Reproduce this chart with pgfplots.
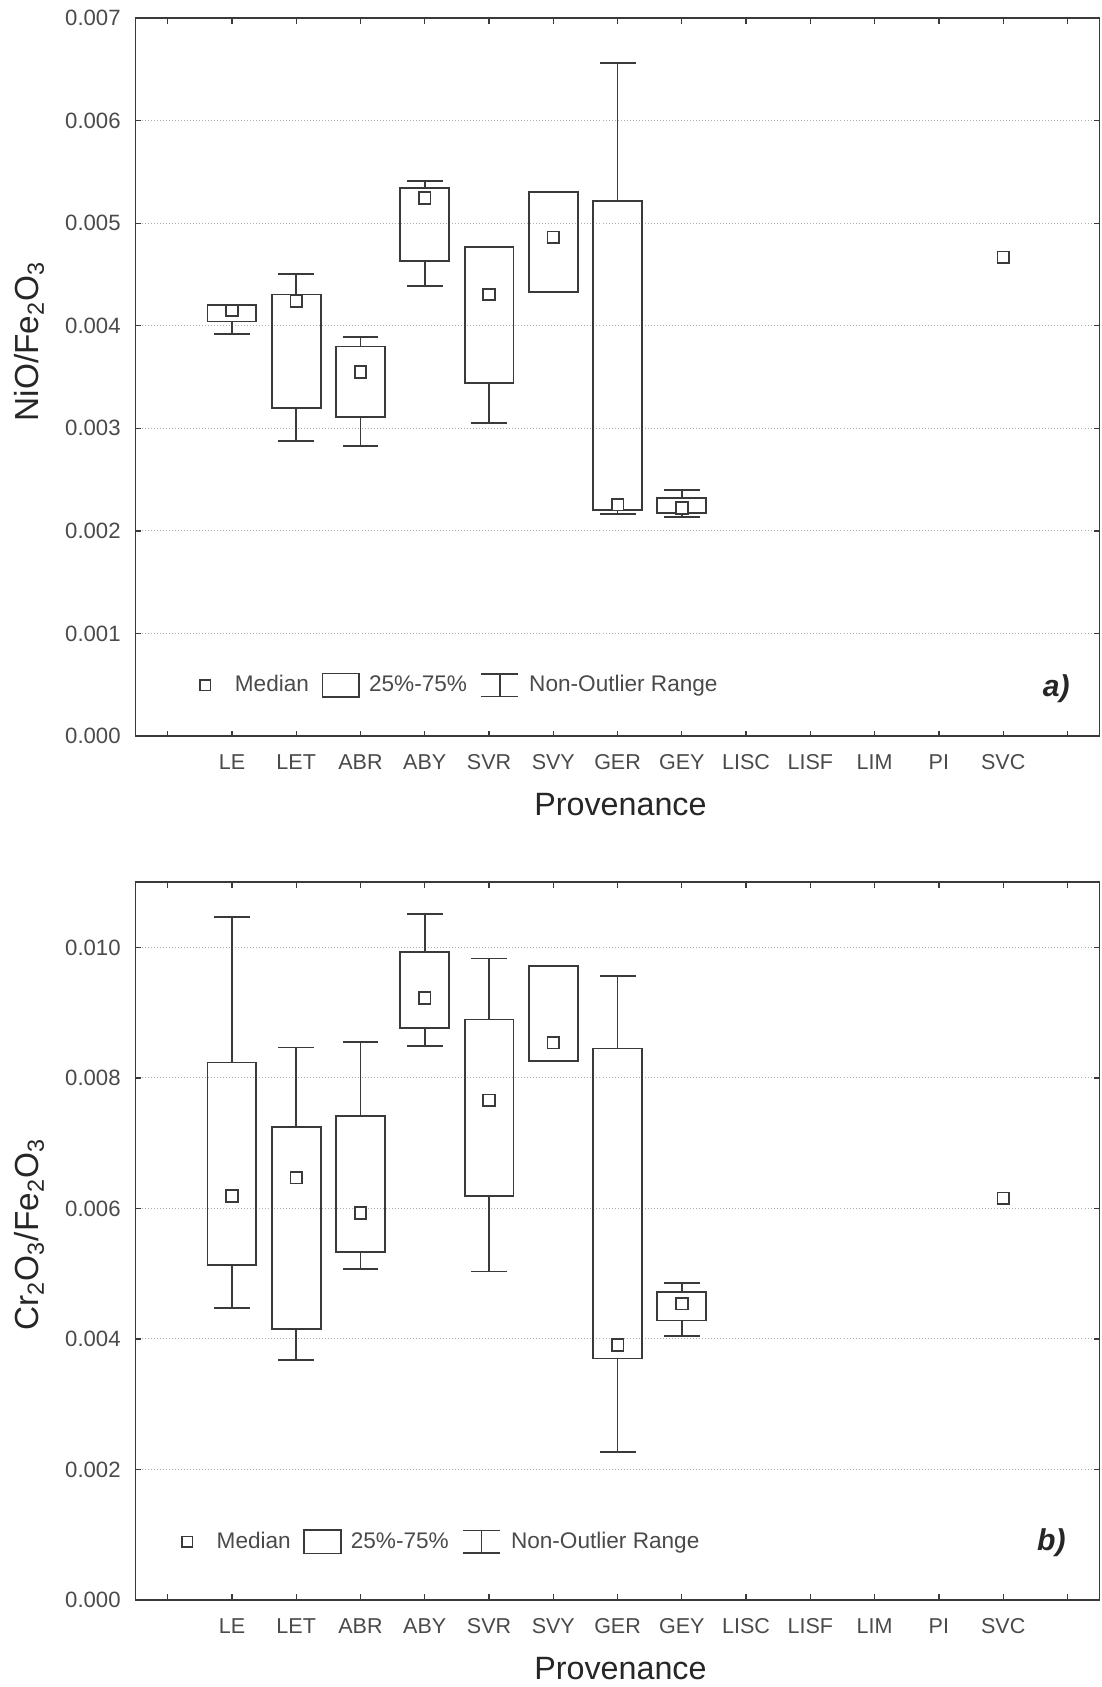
\documentclass[border=0pt]{standalone}
\usepackage{fontspec}
\setmainfont{Liberation Sans}
\usepackage{pgfplots}
\pgfplotsset{compat=1.18}
\usepgfplotslibrary{statistics}
\definecolor{ln}{HTML}{3A3A3A}
\definecolor{gridc}{HTML}{B0B0B0}
\definecolor{tx}{HTML}{4A4A4A}

% values are given in units of 0.001 (i.e. ratio x 1000)
\pgfplotsset{
  mybox/.style={
    scale only axis, width=448pt, height=333.5pt,
    xmin=-0.5, xmax=14.5,
    xtick={0,1,2,3,4,5,6,7,8,9,10,11,12,13,14},
    xticklabels={,LE,LET,ABR,ABY,SVR,SVY,GER,GEY,LISC,LISF,LIM,PI,SVC,},
    xticklabel pos=lower,
    tick align=inside,
    major tick length=2.5pt,
    tick style={ln, line width=0.6pt},
    axis line style={ln, line width=0.8pt},
    ymajorgrids,
    major grid style={gridc, densely dotted, line width=0.5pt},
    scaled y ticks=false,
    yticklabel style={font=\fontsize{10.3}{12}\selectfont, text=tx, xshift=-3.4pt},
    xticklabel style={font=\fontsize{10}{12}\selectfont, text=tx, yshift=-5.3pt},
    xlabel={Provenance},
    xlabel style={at={(axis description cs:0.503,0)}, anchor=north, yshift=-23pt,
      font=\fontsize{15}{18}\selectfont, text=black!85},
    ylabel style={anchor=center, font=\fontsize{15.5}{18}\selectfont, text=black!85},
    legend style={draw=none, fill=none, inner sep=0pt, inner xsep=0pt, inner ysep=0pt,
      nodes={inner sep=0pt, font=\fontsize{10.5}{12}\selectfont, text=tx}, anchor=west},
    legend cell align=left,
    legend columns=3,
    boxplot/draw direction=y,
    boxplot/draw/median/.code={},
    boxplot/box extend=0.76,
    boxplot/whisker extend=0.56,
  },
  medmark/.style={forget plot, only marks, mark=square*, mark size=2.7pt,
    mark options={draw=ln, fill=white, line width=0.8pt}},
}
\newcommand{\bx}[6]{\addplot[forget plot, draw=ln, line width=0.85pt, solid,
  boxplot prepared={draw direction=y, draw position=#1, lower whisker=#2, lower quartile=#3,
  median=#4, upper quartile=#5, upper whisker=#6}] coordinates {};}
\newcommand{\mylegend}{%
  \addlegendimage{legend image code/.code={
    \path (-2.5pt,0) (13.5pt,0);
    \draw[ln, line width=0.8pt, fill=white] (-2.4pt,-2.4pt) rectangle (2.4pt,2.4pt);}}
  \addlegendentry{Median}
  \addlegendimage{legend image code/.code={
    \path (-6pt,0) (21.5pt,0);
    \draw[ln, line width=0.8pt] (0pt,-5.5pt) rectangle (17pt,5.5pt);}}
  \addlegendentry{25\%-75\%}
  \addlegendimage{legend image code/.code={
    \path (-6.5pt,0) (22pt,0);
    \draw[ln, line width=0.8pt] (0pt,-5.25pt) -- (17pt,-5.25pt)
      (0pt,5.25pt) -- (17pt,5.25pt) (8.5pt,-5.25pt) -- (8.5pt,5.25pt);}}
  \addlegendentry{Non-Outlier Range}%
}

\begin{document}
\begin{tikzpicture}
% ---------- top: NiO/Fe2O3 ----------
\begin{axis}[mybox, at={(0pt,401.5pt)}, anchor=south west,
  ymin=0, ymax=7,
  ytick={0,1,2,3,4,5,6,7},
  yticklabels={0.000,0.001,0.002,0.003,0.004,0.005,0.006,0.007},
  ylabel={NiO/Fe\textsubscript{2}O\textsubscript{3}},
  ylabel style={at={(axis description cs:-0.1105,0.5495)}},
  legend style={at={(axis description cs:0.0658,0.0705)}},
]
\mylegend
\bx{1}{3.922}{4.042}{4.150}{4.205}{4.205}
\bx{2}{2.876}{3.200}{4.238}{4.306}{4.508}
\bx{3}{2.824}{3.111}{3.550}{3.798}{3.893}
\bx{4}{4.388}{4.632}{5.248}{5.345}{5.414}
\bx{5}{3.056}{3.443}{4.306}{4.769}{4.769}
\bx{6}{4.332}{4.332}{4.863}{5.303}{5.303}
\bx{7}{2.163}{2.203}{2.256}{5.221}{6.567}
\bx{8}{2.134}{2.173}{2.222}{2.317}{2.399}
\addplot[medmark] coordinates {
 (1,4.150) (2,4.238) (3,3.550) (4,5.248) (5,4.306)
 (6,4.863) (7,2.256) (8,2.222) (13,4.668)};
\node[font=\fontsize{14}{16}\selectfont\bfseries\itshape, text=black!85]
  at (axis description cs:0.955,0.066) {a)};
\end{axis}
% ---------- bottom: Cr2O3/Fe2O3 ----------
\begin{axis}[mybox, at={(0pt,0pt)}, anchor=south west,
  ymin=0, ymax=11,
  ytick={0,2,4,6,8,10},
  yticklabels={0.000,0.002,0.004,0.006,0.008,0.010},
  ylabel={Cr\textsubscript{2}O\textsubscript{3}/Fe\textsubscript{2}O\textsubscript{3}},
  ylabel style={at={(axis description cs:-0.1105,0.509)}},
  legend style={at={(axis description cs:0.0469,0.081)}},
]
\mylegend
\bx{1}{4.469}{5.137}{6.189}{8.238}{10.470}
\bx{2}{3.679}{4.148}{6.470}{7.246}{8.467}
\bx{3}{5.070}{5.326}{5.928}{7.420}{8.554}
\bx{4}{8.493}{8.769}{9.223}{9.928}{10.511}
\bx{5}{5.034}{6.194}{7.655}{8.897}{9.831}
\bx{6}{8.258}{8.258}{8.539}{9.719}{9.719}
\bx{7}{2.260}{3.699}{3.908}{8.452}{9.566}
\bx{8}{4.041}{4.281}{4.539}{4.713}{4.861}
\addplot[medmark] coordinates {
 (1,6.189) (2,6.470) (3,5.928) (4,9.223) (5,7.655)
 (6,8.539) (7,3.908) (8,4.539) (13,6.153)};
\node[font=\fontsize{14}{16}\selectfont\bfseries\itshape, text=black!85]
  at (axis description cs:0.95,0.0795) {b)};
\end{axis}
\pgfresetboundingbox
\path (-63pt,-40.5pt) rectangle (449pt,743.5pt);
\end{tikzpicture}
\end{document}
